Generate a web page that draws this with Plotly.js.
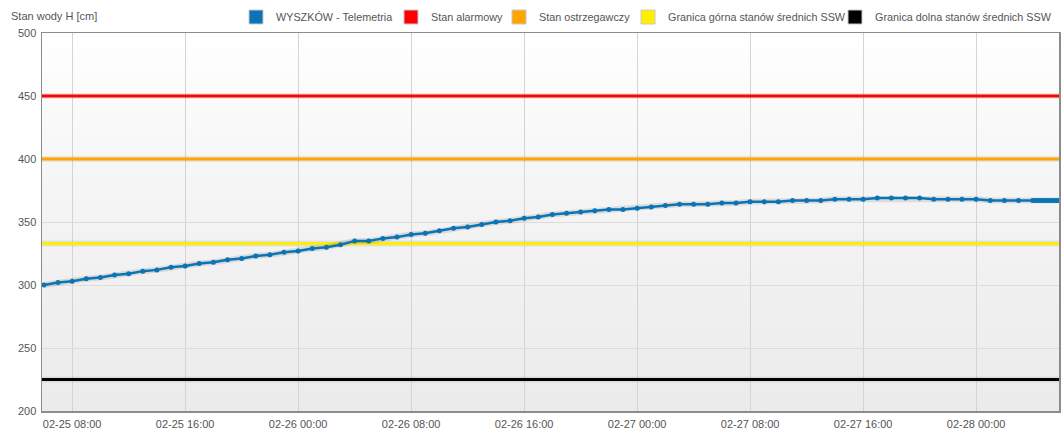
<!DOCTYPE html>
<html>
<head>
<meta charset="utf-8">
<script src="https://cdn.plot.ly/plotly-3.0.1.min.js"></script>
<style>
  html, body { margin: 0; padding: 0; background: #ffffff; }
  #wrap { position: relative; width: 1062px; height: 430px; }
  #bg { position: absolute; left: 42px; top: 33px; width: 1017px; height: 378px;
        background: linear-gradient(to bottom, #ffffff 0%, #f4f4f4 45%, #ebebeb 100%); }
  #chart { position: absolute; left: 0; top: 0; width: 1062px; height: 430px; }
</style>
</head>
<body>
<div id="wrap"><div id="bg"></div><div id="chart"></div></div>
<script>
// ---- data ----
var times = [
  '2024-02-25 06:00','2024-02-25 07:00','2024-02-25 08:00','2024-02-25 09:00','2024-02-25 10:00','2024-02-25 11:00',
  '2024-02-25 12:00','2024-02-25 13:00','2024-02-25 14:00','2024-02-25 15:00','2024-02-25 16:00','2024-02-25 17:00',
  '2024-02-25 18:00','2024-02-25 19:00','2024-02-25 20:00','2024-02-25 21:00','2024-02-25 22:00','2024-02-25 23:00',
  '2024-02-26 00:00','2024-02-26 01:00','2024-02-26 02:00','2024-02-26 03:00','2024-02-26 04:00','2024-02-26 05:00',
  '2024-02-26 06:00','2024-02-26 07:00','2024-02-26 08:00','2024-02-26 09:00','2024-02-26 10:00','2024-02-26 11:00',
  '2024-02-26 12:00','2024-02-26 13:00','2024-02-26 14:00','2024-02-26 15:00','2024-02-26 16:00','2024-02-26 17:00',
  '2024-02-26 18:00','2024-02-26 19:00','2024-02-26 20:00','2024-02-26 21:00','2024-02-26 22:00','2024-02-26 23:00',
  '2024-02-27 00:00','2024-02-27 01:00','2024-02-27 02:00','2024-02-27 03:00','2024-02-27 04:00','2024-02-27 05:00',
  '2024-02-27 06:00','2024-02-27 07:00','2024-02-27 08:00','2024-02-27 09:00','2024-02-27 10:00','2024-02-27 11:00',
  '2024-02-27 12:00','2024-02-27 13:00','2024-02-27 14:00','2024-02-27 15:00','2024-02-27 16:00','2024-02-27 17:00',
  '2024-02-27 18:00','2024-02-27 19:00','2024-02-27 20:00','2024-02-27 21:00','2024-02-27 22:00','2024-02-27 23:00',
  '2024-02-28 00:00','2024-02-28 01:00','2024-02-28 02:00','2024-02-28 03:00',
  '2024-02-28 04:00','2024-02-28 04:10','2024-02-28 04:20','2024-02-28 04:30','2024-02-28 04:40','2024-02-28 04:50',
  '2024-02-28 05:00','2024-02-28 05:10','2024-02-28 05:20','2024-02-28 05:30','2024-02-28 05:40','2024-02-28 05:50'
];
var levels = [
  300,302,303,305,306,308,
  309,311,312,314,315,317,
  318,320,321,323,324,326,
  327,329,330,332,335,335,
  337,338,340,341,343,345,
  346,348,350,351,353,354,
  356,357,358,359,360,360,
  361,362,363,364,364,364,
  365,365,366,366,366,367,
  367,367,368,368,368,369,
  369,369,369,368,368,368,
  368,367,367,367,
  367,367,367,367,367,367,
  367,367,367,367,367,367
];
var seriesName = 'WYSZKÓW - Telemetria';
var thresholdNames = ['Stan alarmowy', 'Stan ostrzegawczy', 'Granica górna stanów średnich SSW', 'Granica dolna stanów średnich SSW'];
var thresholdValues = [450, 400, 333, 225];
var xRange = ['2024-02-25 05:52', '2024-02-28 05:52'];
var yTicks = [200, 250, 300, 350, 400, 450, 500];

// ---- styles ----
var blue = '#0a74b6';
var thresholdColors = ['#ff0000', '#ffa500', '#ffee00', '#000000'];
var fontFam = '"Liberation Sans", Arial, sans-serif';
var textColor = '#555555';
var legendPosPx = [236, 391, 499, 628, 835];

var traces = [];
thresholdValues.forEach(function (v, i) {
  traces.push({
    x: xRange, y: [v, v], mode: 'lines', type: 'scatter', showlegend: false, hoverinfo: 'skip',
    line: { color: 'rgba(0,0,0,0.07)', width: 6 }
  });
  traces.push({
    x: xRange, y: [v, v], mode: 'lines', type: 'scatter', showlegend: false,
    name: thresholdNames[i], line: { color: thresholdColors[i], width: 3 }
  });
});
traces.push({
  x: times, y: levels, mode: 'lines', type: 'scatter', showlegend: false, hoverinfo: 'skip',
  line: { color: 'rgba(0,0,0,0.10)', width: 6 }
});
traces.push({
  x: times, y: levels, mode: 'lines+markers', type: 'scatter', showlegend: false, name: seriesName,
  line: { color: blue, width: 2.5 }, marker: { color: blue, size: 5 }
});

var legendNames = [seriesName].concat(thresholdNames);
var legendColors = [blue].concat(thresholdColors);
var layout = {
  width: 1062, height: 430,
  margin: { l: 42, r: 3, t: 33, b: 19, pad: 0 },
  paper_bgcolor: 'rgba(0,0,0,0)',
  plot_bgcolor: 'rgba(0,0,0,0)',
  font: { family: fontFam, size: 11, color: textColor },
  showlegend: true,
  xaxis: {
    type: 'date', range: xRange,
    tick0: '2024-02-25 08:00', dtick: 8 * 3600 * 1000, tickformat: '%m-%d %H:%M',
    showgrid: true, gridcolor: '#d4d4d4', gridwidth: 1,
    showline: true, linecolor: '#8c8c8c', linewidth: 1.5, mirror: true,
    ticks: '', zeroline: false, ticklabelstandoff: 2,
    tickfont: { family: fontFam, size: 11, color: textColor }
  },
  yaxis: {
    range: [200, 500], tickvals: yTicks,
    showgrid: true, gridcolor: '#dcdcdc', gridwidth: 1,
    showline: true, linecolor: '#8c8c8c', linewidth: 1.5, mirror: true,
    ticks: '', zeroline: false, ticklabelstandoff: 2,
    tickfont: { family: fontFam, size: 11, color: textColor }
  },
  annotations: [{
    text: 'Stan wody H [cm]', xref: 'paper', yref: 'paper',
    x: -0.0325, y: 1.045, xanchor: 'left', yanchor: 'middle', showarrow: false,
    font: { family: fontFam, size: 11, color: textColor }
  }]
};

legendNames.forEach(function (n, i) {
  var key = i === 0 ? 'legend' : 'legend' + (i + 1);
  traces.push({
    x: [null], y: [null], type: 'scatter', mode: 'markers', name: n, showlegend: true, legend: key,
    marker: { symbol: 'square', size: 14, color: legendColors[i], line: { color: '#c8c8c8', width: 1 } }
  });
  layout[key] = {
    orientation: 'h', xref: 'container', yref: 'container',
    x: legendPosPx[i] / 1062, xanchor: 'left', y: 1 - 17 / 430, yanchor: 'middle',
    font: { family: fontFam, size: 10.8, color: textColor },
    bgcolor: 'rgba(0,0,0,0)', borderwidth: 0, itemclick: false
  };
});

Plotly.newPlot('chart', traces, layout, { staticPlot: true, displayModeBar: false });
</script>
</body>
</html>
